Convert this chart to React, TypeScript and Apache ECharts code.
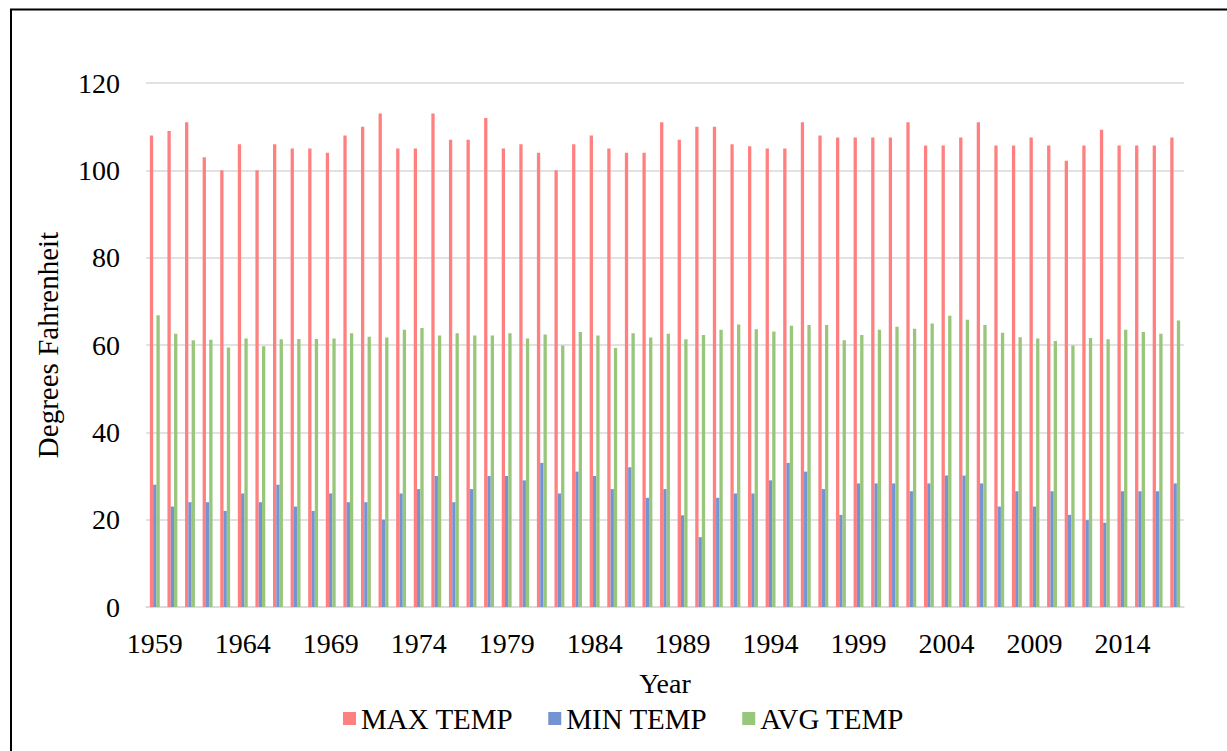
import React, { useEffect, useRef } from "react";
import * as echarts from "echarts";

const years: string[] = [];
for (let y = 1959; y <= 2017; y++) years.push(String(y));

const maxTemp = [
  108, 109, 111, 103, 100, 106, 100, 106, 105, 105, 104, 108, 110, 113, 105,
  105, 113, 107, 107, 112, 105, 106, 104, 100, 106, 108, 105, 104, 104, 111,
  107, 110, 110, 106, 105.5, 105, 105, 111, 108, 107.5, 107.5, 107.5, 107.5, 111, 105.7,
  105.7, 107.5, 111, 105.7, 105.7, 107.5, 105.7, 102.2, 105.7, 109.3, 105.7, 105.7, 105.7, 107.5,
];

const minTemp = [
  28, 23, 24, 24, 22, 26, 24, 28, 23, 22, 26, 24, 24, 20, 26,
  27, 30, 24, 27, 30, 30, 29, 33, 26, 31, 30, 27, 32, 25, 27,
  21, 16, 25, 26, 26, 29, 33, 31, 27, 21.1, 28.3, 28.3, 28.3, 26.5, 28.3,
  30.1, 30.1, 28.3, 23, 26.5, 23, 26.5, 21.1, 19.9, 19.3, 26.5, 26.5, 26.5, 28.3,
];

const avgTemp = [
  66.8, 62.6, 61.1, 61.2, 59.4, 61.5, 59.7, 61.3, 61.4, 61.4, 61.5, 62.7, 61.9, 61.7, 63.5,
  63.9, 62.2, 62.7, 62.2, 62.2, 62.7, 61.5, 62.4, 59.9, 63.0, 62.2, 59.3, 62.7, 61.7, 62.6,
  61.3, 62.3, 63.5, 64.7, 63.6, 63.1, 64.4, 64.6, 64.6, 61.1, 62.3, 63.5, 64.2, 63.7, 64.9,
  66.7, 65.8, 64.6, 62.8, 61.8, 61.5, 60.9, 59.9, 61.6, 61.3, 63.5, 63.0, 62.6, 65.6,
];

const yTicks = [0, 20, 40, 60, 80, 100, 120];

const FONT = "Liberation Serif";

export default function App() {
  const ref = useRef<HTMLDivElement>(null);
  useEffect(() => {
    if (!ref.current) return;
    const chart = echarts.init(ref.current, undefined, { renderer: "svg" });
    chart.setOption({
      animation: false,
      backgroundColor: "#ffffff",
      textStyle: { fontFamily: FONT, color: "#000" },
      graphic: [
        {
          type: "rect",
          shape: { x: 11, y: 9.5, width: 1260, height: 800 },
          style: { fill: "none", stroke: "#000", lineWidth: 2 },
          silent: true,
        },
      ],
      grid: { left: 146, right: 43, top: 83, bottom: 144, containLabel: false },
      legend: {
        left: 343,
        top: 704,
        padding: 0,
        itemWidth: 13,
        itemHeight: 13,
        itemGap: 35,
        icon: "rect",
        textStyle: { fontFamily: FONT, fontSize: 29, color: "#000", padding: [0, 0, 0, 0] },
        data: ["MAX TEMP", "MIN TEMP", "AVG TEMP"],
      },
      xAxis: {
        type: "category",
        data: years,
        name: "Year",
        nameLocation: "middle",
        nameGap: 62,
        nameTextStyle: { fontFamily: FONT, fontSize: 28, color: "#000" },
        axisLine: { show: true, lineStyle: { color: "#D9D9D9", width: 1.5 } },
        axisTick: { show: false },
        axisLabel: {
          interval: 4,
          margin: 22,
          fontFamily: FONT,
          fontSize: 28,
          color: "#000",
        },
        splitLine: { show: false },
      },
      yAxis: {
        type: "value",
        min: yTicks[0],
        max: yTicks[yTicks.length - 1],
        interval: 20,
        name: "Degrees Fahrenheit",
        nameLocation: "middle",
        nameGap: 84,
        nameRotate: 90,
        nameTextStyle: { fontFamily: FONT, fontSize: 29, color: "#000" },
        axisLine: { show: false },
        axisTick: { show: false },
        axisLabel: { margin: 26, fontFamily: FONT, fontSize: 28, color: "#000" },
        splitLine: { show: true, lineStyle: { color: "#D9D9D9", width: 1.5 } },
      },
      series: [
        {
          name: "MAX TEMP",
          type: "bar",
          data: maxTemp,
          barWidth: 3.3,
          barGap: "0%",
          itemStyle: { color: "#FF8080" },
        },
        {
          name: "MIN TEMP",
          type: "bar",
          data: minTemp,
          barWidth: 3.3,
          barGap: "0%",
          itemStyle: { color: "#7393D3" },
        },
        {
          name: "AVG TEMP",
          type: "bar",
          data: avgTemp,
          barWidth: 3.3,
          barGap: "0%",
          itemStyle: { color: "#98C67A" },
        },
      ],
    });
    return () => chart.dispose();
  }, []);
  return (
    <div
      ref={ref}
      style={{ position: "fixed", left: 0, top: 0, width: 1227, height: 751, background: "#fff" }}
    />
  );
}
